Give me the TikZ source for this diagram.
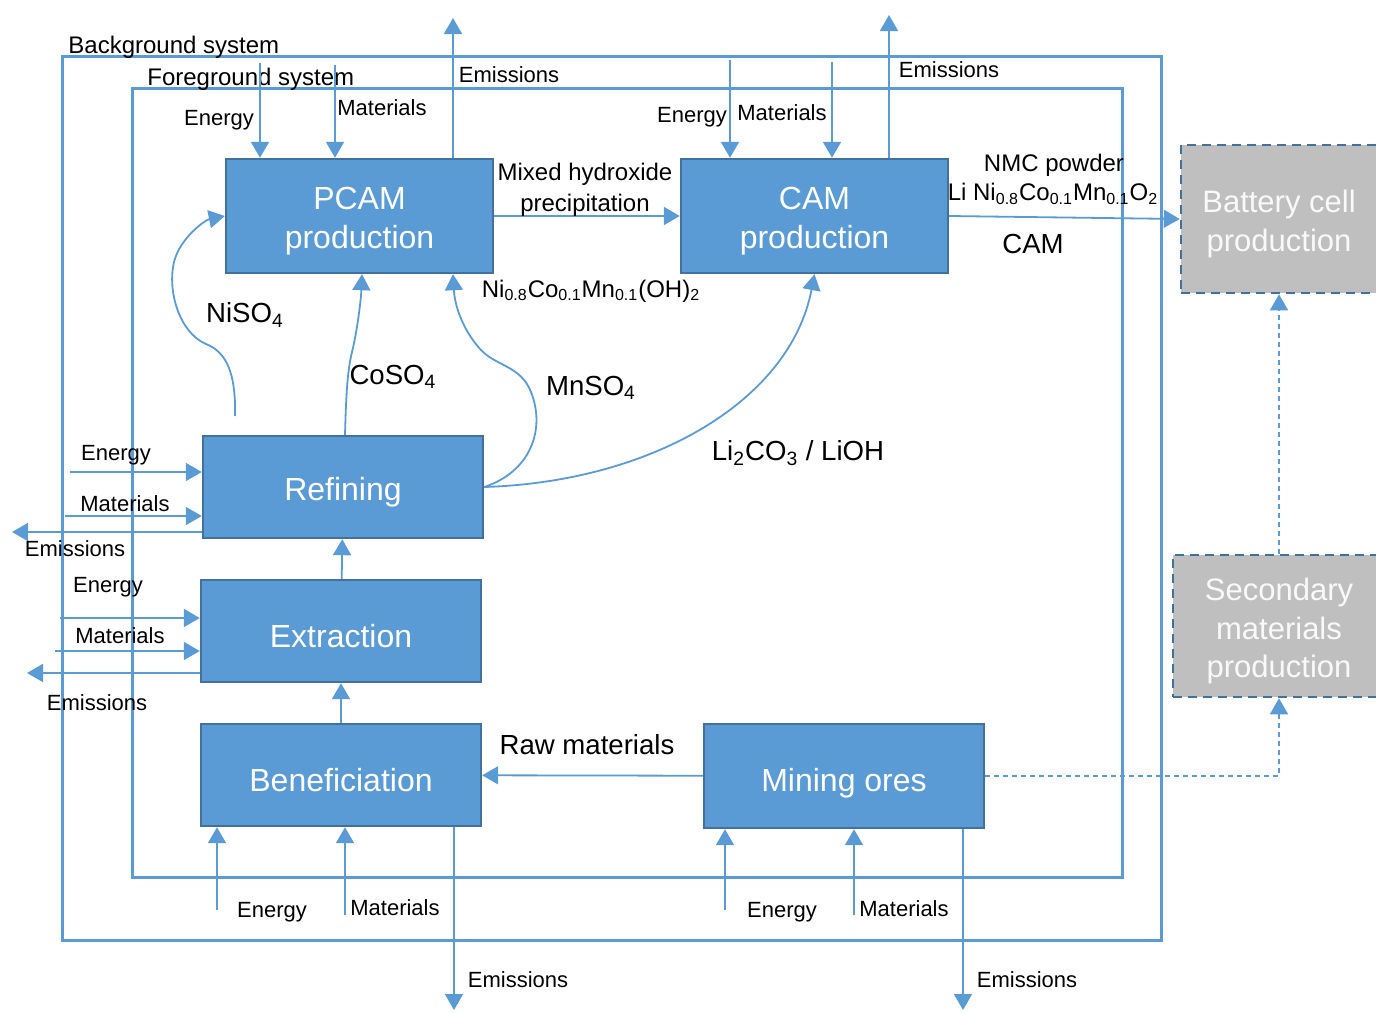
\documentclass[tikz,border=0pt]{standalone}
\usepackage{fontspec}
\setmainfont{Liberation Sans}
\usetikzlibrary{arrows.meta}
\definecolor{lb}{HTML}{5B9BD5}
\definecolor{db}{HTML}{41719C}
\definecolor{gr}{HTML}{BFBFBF}
\begin{document}
\begin{tikzpicture}[x=0.5pt,y=-0.5pt,
  frame/.style={draw=lb, line width=1.5pt},
  proc/.style={draw=db, fill=lb, line width=1.2pt, inner sep=0pt},
  ptext/.style={font=\fontsize{16}{19.5}\selectfont, text=white, align=center, inner sep=0pt, yshift=-2.5pt},
  secbox/.style={draw=db, fill=gr, dash pattern=on 4.5pt off 3pt, line width=1.3pt, inner sep=0pt},
  stext/.style={font=\fontsize{15.5}{19.3}\selectfont, text=white!95!gray, align=center, inner sep=0pt, yshift=-2.5pt},
  flow/.style={draw=lb, line width=0.9pt, -{Triangle[length=8pt,width=9pt]}},
  dflow/.style={flow, dash pattern=on 2.5pt off 2pt, line width=0.8pt},
  lbl/.style={font=\fontsize{11}{13}\selectfont, inner sep=0pt},
  midl/.style={font=\fontsize{13.8}{16}\selectfont, inner sep=0pt},
  frml/.style={font=\fontsize{12}{14}\selectfont, inner sep=0pt, align=center}]
\useasboundingbox (0,0) rectangle (1376,1012);
% frames
\draw[frame] (62,56) rectangle (1161,940);
\draw[frame] (132,88) rectangle (1122,877);
\node[frml, anchor=west] (bgl) at (68,47) {Background system};
\node[frml, anchor=west] (fgl) at (147,79) {Foreground system};
% boxes
\node[proc, minimum width=133.5pt, minimum height=57pt, label={[ptext]center:PCAM\\production}] (pcam) at (359.5,216) {};
\node[proc, minimum width=133.5pt, minimum height=57pt, label={[ptext]center:CAM\\production}] (cam) at (814.5,216) {};
\node[proc, minimum width=140pt, minimum height=51pt, label={[ptext]center:Refining}] (ref) at (343,487) {};
\node[proc, minimum width=140pt, minimum height=51pt, label={[ptext]center:Extraction}] (ext) at (341,631) {};
\node[proc, minimum width=140pt, minimum height=51pt, label={[ptext]center:Beneficiation}] (ben) at (341,775) {};
\node[proc, minimum width=140pt, minimum height=52pt, label={[ptext, yshift=-1pt]center:Mining ores}] (mine) at (844,776) {};
\node[secbox, minimum width=98pt, minimum height=74pt, label={[stext]center:Battery cell\\production}] (bat) at (1279,219) {};
\node[secbox, minimum width=106pt, minimum height=71pt, label={[stext]center:Secondary\\materials\\production}] (sec) at (1279,626) {};
% PCAM flows
\coordinate (pe) at (260,63); \draw[flow] (pe) -- (pe |- pcam.north);
\coordinate (pm) at (335,65); \draw[flow] (pm) -- (pm |- pcam.north);
\coordinate (px) at (453,18); \draw[flow] (px |- pcam.north) -- (px);
\node[lbl] (l1) at (219,120) {Energy};
\node[lbl] (l2) at (382,108) {Materials};
\node[lbl] (l3) at (509,75) {Emissions};
% CAM flows
\coordinate (ce) at (730,60); \draw[flow] (ce) -- (ce |- cam.north);
\coordinate (cm) at (832,62); \draw[flow] (cm) -- (cm |- cam.north);
\coordinate (cx) at (889,15); \draw[flow] (cx |- cam.north) -- (cx);
\node[lbl] (l4) at (692,117) {Energy};
\node[lbl] (l5) at (782,113) {Materials};
\node[lbl] (l6) at (949,70) {Emissions};
% main chain
\draw[flow] (pcam) -- (cam);
\node[frml] (mhp) at (585,190) {Mixed hydroxide\\[1.5pt]precipitation};
\node[frml] (ohf) at (591,291) {Ni\textsubscript{0.8}Co\textsubscript{0.1}Mn\textsubscript{0.1}(OH)\textsubscript{2}};
\draw[flow] (cam.east) -- (bat.west);
\node[frml] (nmc) at (1054,165) {NMC powder};
\node[frml] (nmcf) at (1053,194) {Li Ni\textsubscript{0.8}Co\textsubscript{0.1}Mn\textsubscript{0.1}O\textsubscript{2}};
\node[midl] (caml) at (1033,244) {CAM};
% refining products
\coordinate (ns) at (235,416);
\draw[flow] (ns) .. controls (236,372) and (226,352) .. (206,344) .. controls (180,333) and (167,292) .. (174,262) .. controls (180,238) and (205,220) .. (pcam.west);
\node[midl] (nil) at (245,315) {NiSO\textsubscript{4}};
\draw[flow] ([xshift=1pt]ref.north) .. controls (346,400) and (347,372) .. (352,352) .. controls (357,332) and (361,300) .. ([xshift=1.25pt]pcam.south);
\node[midl] (col) at (393,377) {CoSO\textsubscript{4}};
\draw[flow] (ref.east) .. controls (530,472) and (546,430) .. (531,392) .. controls (521,366) and (496,366) .. (481,350) .. controls (466,334) and (455,310) .. ([xshift=46.75pt]pcam.south);
\node[midl] (mnl) at (591,388) {MnSO\textsubscript{4}};
\draw[flow] (ref.east) .. controls (650,482) and (790,402) .. (cam.south);
\node[midl] (lil) at (798,453) {Li\textsubscript{2}CO\textsubscript{3} / LiOH};
% refining inputs
\coordinate (re) at (70,472); \draw[flow] (re) -- (re -| ref.west);
\coordinate (rm) at (65,516); \draw[flow] (rm) -- (rm -| ref.west);
\coordinate (rx) at (12,532); \draw[flow] (rx -| ref.west) -- (rx);
\node[lbl] (l7) at (116,455) {Energy};
\node[lbl] (l8) at (125,504) {Materials};
\node[lbl] (l9) at (75,549) {Emissions};
% extraction inputs
\coordinate (xe) at (60,618); \draw[flow] (xe) -- (xe -| ext.west);
\coordinate (xm) at (55,651); \draw[flow] (xm) -- (xm -| ext.west);
\coordinate (xx) at (27,673); \draw[flow] (xx -| ext.west) -- (xx);
\node[lbl] (l10) at (108,587) {Energy};
\node[lbl] (l11) at (120,636) {Materials};
\node[lbl] (l12) at (97,703) {Emissions};
% chain upward
\draw[flow] (ext) -- (ref);
\draw[flow] (ben) -- (ext);
\draw[flow] (mine) -- (ben);
\node[midl] (raw) at (587,745) {Raw materials};
% beneficiation inputs
\coordinate (be) at (217,910); \draw[flow] (be) -- (be |- ben.south);
\coordinate (bm) at (345,915); \draw[flow] (bm) -- (bm |- ben.south);
\coordinate (bx) at (454,1010); \draw[flow] (bx |- ben.south) -- (bx);
\node[lbl] (l13) at (272,912) {Energy};
\node[lbl] (l14) at (395,908) {Materials};
\node[lbl] (l15) at (518,980) {Emissions};
% mining inputs
\coordinate (me) at (725,910); \draw[flow] (me) -- (me |- mine.south);
\coordinate (mm) at (854,915); \draw[flow] (mm) -- (mm |- mine.south);
\coordinate (mx) at (963,1010); \draw[flow] (mx |- mine.south) -- (mx);
\node[lbl] (l16) at (782,912) {Energy};
\node[lbl] (l17) at (904,909) {Materials};
\node[lbl] (l18) at (1027,980) {Emissions};
% dashed links
\draw[dflow] (mine.east) -- (sec.south |- mine.east) -- (sec.south);
\draw[dflow] (sec.north) -- (bat.south);
\end{tikzpicture}
\end{document}
